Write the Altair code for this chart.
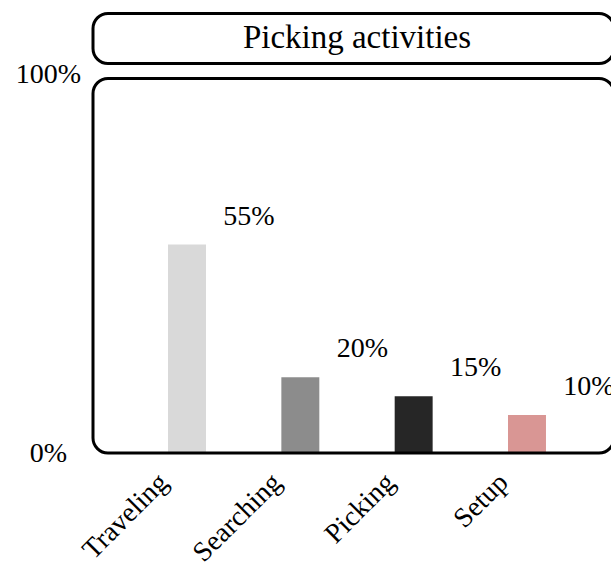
import altair as alt
import pandas as pd

# Share of time per picking activity (percent)
activities = ["Traveling", "Searching", "Picking", "Setup"]
shares = [55, 20, 15, 10]
bar_colors = ["#D9D9D9", "#8C8C8C", "#262626", "#D99694"]
chart_title = "Picking activities"

FONT = "Liberation Serif"
W, H = 518, 379

df = pd.DataFrame({"activity": activities, "share": shares})
df["label"] = df["share"].astype(str) + "%"

x_enc = alt.X(
    "activity:N",
    sort=activities,
    scale=alt.Scale(range=[0, 528], paddingInner=0.665, paddingOuter=0.662),
    axis=alt.Axis(
        title=None, labelAngle=-45, labelAlign="right", labelBaseline="middle",
        labelOffset=-23, labelPadding=25, domain=False, ticks=False, tickSize=0,
    ),
)
y_enc = alt.Y(
    "share:Q",
    scale=alt.Scale(domain=[0, 100], nice=False),
    axis=alt.Axis(
        title=None, values=[0, 100], labelExpr="datum.value + '%'",
        labelAlign="center", labelBaseline="middle", labelPadding=45,
        domain=False, ticks=False, tickSize=0, grid=False,
    ),
)

bars = alt.Chart(df).mark_bar().encode(
    x=x_enc,
    y=y_enc,
    color=alt.Color("activity:N", sort=activities,
                    scale=alt.Scale(domain=activities, range=bar_colors), legend=None),
)

labels = alt.Chart(df).mark_text(
    font=FONT, fontSize=28, color="black", align="center",
    baseline="alphabetic", dx=62, dy=-20,
).encode(x=alt.X("activity:N", sort=activities), y="share:Q", text="label:N")

one = pd.DataFrame({"t": [chart_title]})

# rounded frame around the plot area
frame = alt.Chart(one).mark_rect(
    fill="transparent", stroke="black", strokeWidth=3, cornerRadius=15
).encode(x=alt.value(0), x2=alt.value(521), y=alt.value(4.5), y2=alt.value(379))

# rounded box holding the title
title_box = alt.Chart(one).mark_rect(
    fill="transparent", stroke="black", strokeWidth=3, cornerRadius=15
).encode(x=alt.value(0), x2=alt.value(521), y=alt.value(-60.5), y2=alt.value(-10.5))

title_text = alt.Chart(one).mark_text(
    font=FONT, fontSize=33, color="black", align="center", baseline="alphabetic"
).encode(x=alt.value(264), y=alt.value(-26), text="t:N")

chart = alt.layer(bars, labels, frame, title_box, title_text).properties(
    width=W, height=H,
    background="white",
    autosize=alt.AutoSizeParams(type="none"),
    padding={"left": 93, "top": 74, "right": 0, "bottom": 116},
).configure_view(
    strokeWidth=0
).configure_axis(
    labelFont=FONT, labelFontSize=28, labelColor="black"
)

chart.save("out.html", embed_options={"renderer": "svg", "actions": False})
